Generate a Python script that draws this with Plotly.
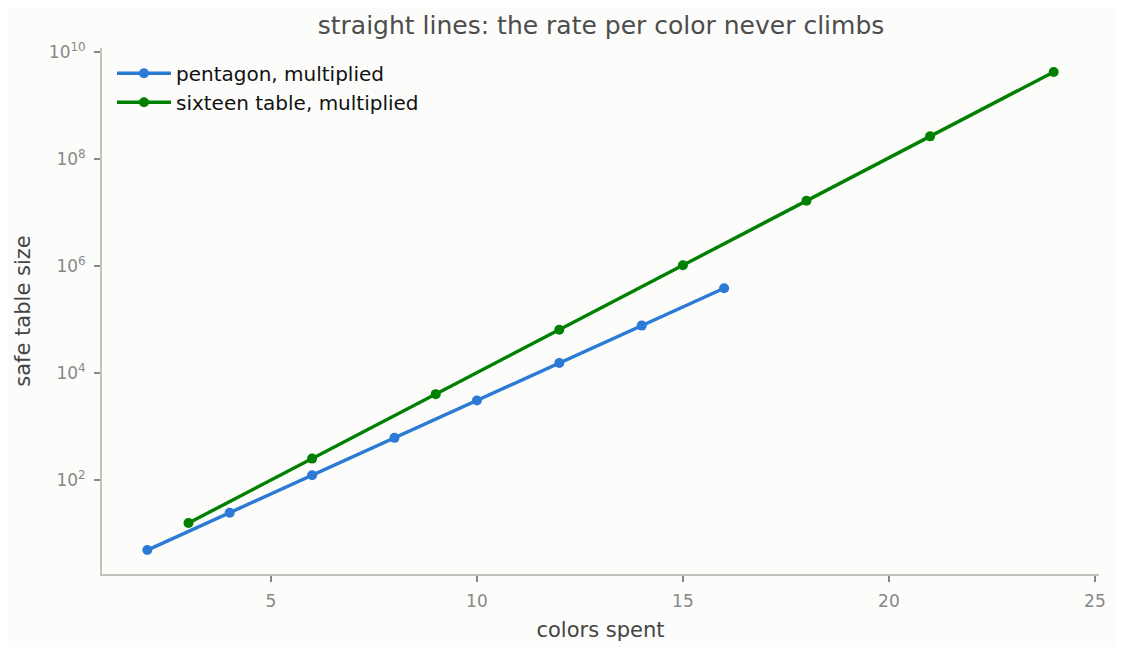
import plotly.graph_objects as go

# colors spent vs. safe table size
pent_x = [2, 4, 6, 8, 10, 12, 14, 16]
pent_y = [5, 25, 125, 625, 3125, 15625, 78125, 390625]

six_x = [3, 6, 9, 12, 15, 18, 21, 24]
six_y = [16, 256, 4096, 65536, 1048576, 16777216, 268435456, 4294967296]

y_tickvals = [1e2, 1e4, 1e6, 1e8, 1e10]
y_ticktext = ["10<sup>2</sup>", "10<sup>4</sup>", "10<sup>6</sup>", "10<sup>8</sup>", "10<sup>10</sup>"]
x_tickvals = [5, 10, 15, 20, 25]

fig = go.Figure()
fig.add_trace(go.Scatter(
    x=pent_x, y=pent_y, mode="lines+markers", name="pentagon, multiplied",
    line=dict(color="#2a7ad6", width=3.4), marker=dict(size=10, color="#2a7ad6"),
))
fig.add_trace(go.Scatter(
    x=six_x, y=six_y, mode="lines+markers", name="sixteen table, multiplied",
    line=dict(color="#008000", width=3.4), marker=dict(size=10, color="#008000"),
))

axis_common = dict(
    showgrid=False, zeroline=False, showline=True, linecolor="#c2c2ba", linewidth=2,
    ticks="outside", ticklen=6, tickwidth=1.5, tickcolor="#888888",
    tickfont=dict(size=17, color="#888888"), ticklabelstandoff=5,
    title_font=dict(size=21, color="#444444"),
)

# page body adds an 8px margin, so the figure is made 16px smaller
fig.update_layout(
    width=1107, height=639,
    margin=dict(l=94, r=9, t=40, b=68),
    paper_bgcolor="#fcfcfa", plot_bgcolor="#fcfcfa",
    font=dict(family="DejaVu Sans", color="#444444"),
    title=dict(text="straight lines: the rate per color never climbs", x=0.5357, xanchor="center",
               y=0.973, yanchor="middle", font=dict(size=25, color="#4d4d4d")),
    legend=dict(x=0.01, y=0.989, xanchor="left", yanchor="top", bgcolor="rgba(0,0,0,0)",
                font=dict(size=20, color="#111111"), itemwidth=54),
    xaxis=dict(axis_common, title_text="colors spent", range=[0.9, 25.1],
               tickvals=x_tickvals, title_standoff=12),
    yaxis=dict(axis_common, type="log", title_text="safe table size", range=[0.252, 10.08],
               tickvals=y_tickvals, ticktext=y_ticktext, title_standoff=12),
)

fig.write_html("out.html")
